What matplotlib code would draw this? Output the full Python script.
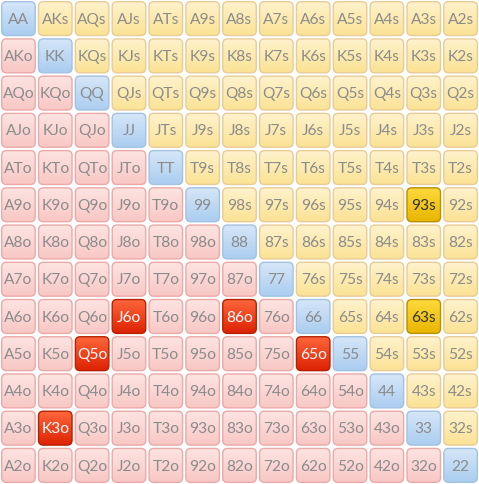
import matplotlib
matplotlib.use("Agg")
import matplotlib.pyplot as plt
import numpy as np
from matplotlib.patches import FancyBboxPatch

ranks = list("AKQJT98765432")
highlight_offsuit = ["J6o", "86o", "Q5o", "65o", "K3o"]
highlight_suited = ["93s", "63s"]

# (top colour, bottom colour, edge colour, text colour)
styles = {
    "pair": ("#d8e8f9", "#a9ccef", "#a3c2e2", "#8c8c8c"),
    "suited": ("#fff4d0", "#fbe192", "#e8cc98", "#8c8c8c"),
    "offsuit": ("#fde6e3", "#f8c6c3", "#eba9a8", "#8c8c8c"),
    "hot_off": ("#ff6a40", "#dc2000", "#b82000", "#ffffff"),
    "hot_suit": ("#ffdc40", "#e8b400", "#b89000", "#333333"),
}

fig = plt.figure(figsize=(4.79, 4.84), dpi=100)
ax = fig.add_axes([0, 0, 1, 1])
ax.set_xlim(0, 13)
ax.set_ylim(13, 0)
ax.axis("off")
fig.patch.set_facecolor("white")

n = len(ranks)
rp = 0.13
for r in range(n):
    for c in range(n):
        if r == c:
            label = ranks[r] + ranks[c]
            kind = "pair"
        elif c > r:
            label = ranks[r] + ranks[c] + "s"
            kind = "hot_suit" if label in highlight_suited else "suited"
        else:
            label = ranks[c] + ranks[r] + "o"
            kind = "hot_off" if label in highlight_offsuit else "offsuit"
        top, bot, edge, tcol = styles[kind]
        pad = 0.045
        box = FancyBboxPatch((c + pad + rp, r + pad + rp),
                             1 - 2 * pad - 2 * rp, 1 - 2 * pad - 2 * rp,
                             boxstyle=f"round,pad={rp}",
                             facecolor="none", edgecolor=edge, lw=1.0, zorder=3)
        ax.add_patch(box)
        grad = np.linspace(0, 1, 32).reshape(-1, 1)
        t = np.array(matplotlib.colors.to_rgb(top))
        b = np.array(matplotlib.colors.to_rgb(bot))
        img = t[None, None, :] * (1 - grad[:, :, None]) + b[None, None, :] * grad[:, :, None]
        im = ax.imshow(img, extent=(c, c + 1, r + 1, r), aspect="auto", zorder=2,
                       interpolation="bilinear")
        im.set_clip_path(box)
        ax.text(c + 0.5, r + 0.53, label, ha="center", va="center",
                fontsize=11.2, color=tcol, family=["Lato", "DejaVu Sans"], zorder=4)

ax.set_xlim(0, 13)
ax.set_ylim(13, 0)
fig.savefig("out.png", dpi=100, facecolor="white")
